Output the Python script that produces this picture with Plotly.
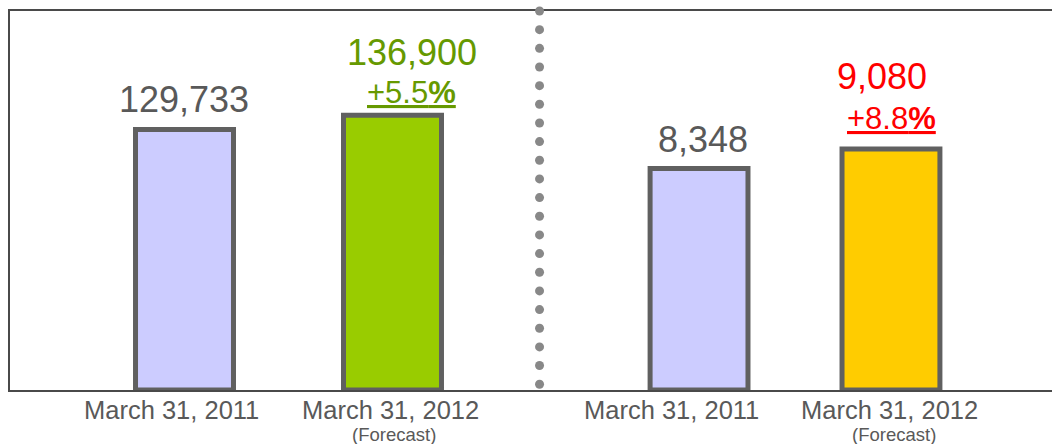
import numpy as np
import plotly.graph_objects as go

# Period labels shared by both panels
categories = ["March 31, 2011", "March 31, 2012"]
forecast_note = "(Forecast)"

# Left panel and right panel values
left_values = [129733, 136900]
right_values = [8348, 9080]

FONT = "Arial, Liberation Sans, sans-serif"
GRAY_TEXT = "#595959"
OUTLINE = "#606060"
FRAME = "#4a4a4a"

left_colors = ["#ccccff", "#99cc00"]
right_colors = ["#ccccff", "#ffcc00"]
left_accent = "#669900"
right_accent = "#ff0000"

split = 0.5082  # horizontal fraction where the two panels meet


def pct_change(vals):
    return f"+{(vals[1] / vals[0] - 1) * 100:.1f}<b>%</b>"


fig = go.Figure()

fig.add_trace(go.Bar(
    x=categories, y=left_values, xaxis="x", yaxis="y",
    width=0.471,
    marker=dict(color=left_colors, line=dict(color=OUTLINE, width=5)),
    hoverinfo="skip", showlegend=False,
))
fig.add_trace(go.Bar(
    x=categories, y=right_values, xaxis="x2", yaxis="y2",
    width=0.510,
    marker=dict(color=right_colors, line=dict(color=OUTLINE, width=5)),
    hoverinfo="skip", showlegend=False,
))

# Dotted divider between the panels, on a full-frame helper subplot
n_dots = 21
dot_y = 1 - np.arange(n_dots) * (18.66 / 379)
fig.add_trace(go.Scatter(
    x=[split] * n_dots, y=dot_y, xaxis="x3", yaxis="y3",
    mode="markers", cliponaxis=False,
    marker=dict(size=9, color="#888888"),
    hoverinfo="skip", showlegend=False,
))

annotations = []


def label(xref, yref, x, y, text, size, color, xshift=0, yshift=0, underline=False):
    font = dict(family=FONT, size=size, color=color)
    if underline:
        font["lineposition"] = "under"
    annotations.append(dict(
        xref=xref, yref=yref, x=x, y=y, text=text, showarrow=False,
        xanchor="center", yanchor="middle", xshift=xshift, yshift=yshift,
        font=font,
    ))


# Value labels above bars
label("x", "y", categories[0], left_values[0], f"{left_values[0]:,}", 36, GRAY_TEXT, -1, 30)
label("x", "y", categories[1], left_values[1], f"{left_values[1]:,}", 36, left_accent, 19.5, 63)
label("x", "y", categories[1], left_values[1], pct_change(left_values), 31, left_accent, 19, 22.5, True)

label("x2", "y2", categories[0], right_values[0], f"{right_values[0]:,}", 36, GRAY_TEXT, 3.5, 28.5)
label("x2", "y2", categories[1], right_values[1], f"{right_values[1]:,}", 36, right_accent, -9, 72.5)
label("x2", "y2", categories[1], right_values[1], pct_change(right_values), 31, right_accent, 1, 30.5, True)

# Period labels under the axis
label("x", "y", categories[0], 0, categories[0], 25.5, GRAY_TEXT, -13.5, -19.5)
label("x", "y", categories[1], 0, categories[1], 25.5, GRAY_TEXT, -1.5, -19.5)
label("x", "y", categories[1], 0, forecast_note, 18.5, GRAY_TEXT, 1.5, -44)
label("x2", "y2", categories[0], 0, categories[0], 25.5, GRAY_TEXT, -28, -19.5)
label("x2", "y2", categories[1], 0, categories[1], 25.5, GRAY_TEXT, -1, -19.5)
label("x2", "y2", categories[1], 0, forecast_note, 18.5, GRAY_TEXT, 3, -44)

fig.update_layout(
    width=1052, height=444,
    margin=dict(l=10, r=0, t=11, b=54),
    paper_bgcolor="white", plot_bgcolor="rgba(0,0,0,0)",
    font=dict(family=FONT, color=GRAY_TEXT),
    annotations=annotations,
    xaxis=dict(domain=[0, split], anchor="y", type="category",
               range=[-0.839, 1.707], showticklabels=False, ticks="",
               showgrid=False, zeroline=False,
               showline=True, linecolor=FRAME, linewidth=2, mirror=True),
    yaxis=dict(domain=[0, 1], anchor="x", range=[0, 188800],
               showticklabels=False, ticks="", showgrid=False, zeroline=False,
               showline=True, linecolor=FRAME, linewidth=2),
    xaxis2=dict(domain=[split, 1], anchor="y2", type="category",
                range=[-0.831, 1.839], showticklabels=False, ticks="",
                showgrid=False, zeroline=False,
                showline=True, linecolor=FRAME, linewidth=2, mirror=True),
    yaxis2=dict(domain=[0, 1], anchor="x2", range=[0, 14280],
                showticklabels=False, ticks="", showgrid=False, zeroline=False,
                showline=False),
    xaxis3=dict(domain=[0, 1], anchor="y3", range=[0, 1], visible=False),
    yaxis3=dict(domain=[0, 1], anchor="x3", range=[0, 1], visible=False),
)

fig.write_html("out.html")
